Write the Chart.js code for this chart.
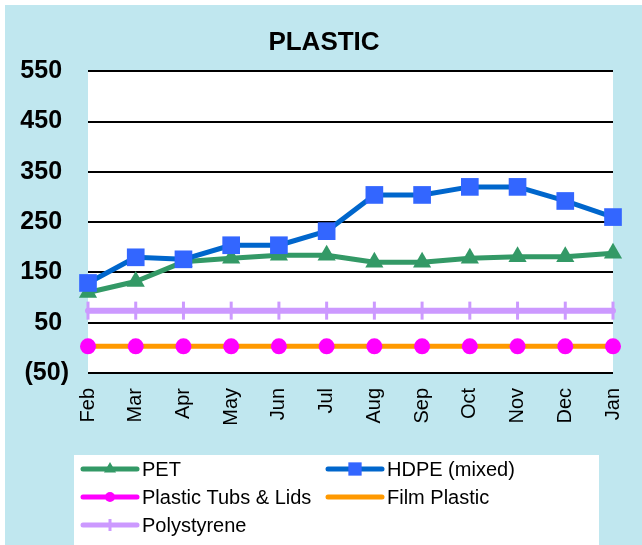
<!DOCTYPE html>
<html>
<head>
<meta charset="utf-8">
<title>PLASTIC</title>
<script src="https://cdn.jsdelivr.net/npm/chart.js@4/dist/chart.umd.min.js"></script>
<style>
    html, body { margin: 0; padding: 0; background: #ffffff; }
    #wrap { width: 642px; height: 545px; }
</style>
</head>
<body>
<div id="wrap"><canvas id="plasticChart" width="642" height="545"></canvas></div>
<script>
const months = ["Feb", "Mar", "Apr", "May", "Jun", "Jul", "Aug", "Sep", "Oct", "Nov", "Dec", "Jan"];

const pet = [110, 132, 171, 178, 184, 184, 170, 170, 178, 181, 181, 188];
const hdpe = [129, 180, 176, 204, 204, 232, 304, 304, 320, 320, 292, 260];
const tubsLids = [3, 3, 3, 3, 3, 3, 3, 3, 3, 3, 3, 3];
const filmPlastic = [3, 3, 3, 3, 3, 3, 3, 3, 3, 3, 3, 3];
const polystyrene = [74, 74, 74, 74, 74, 74, 74, 74, 74, 74, 74, 74];

const yTicks = [-50, 50, 150, 250, 350, 450, 550];

const FONT = "'Liberation Sans', Arial, sans-serif";
const PANEL = "#c0e7ef";

// background, white plot area
const backgroundPlugin = {
    id: "background",
    beforeDraw(chart) {
        const ctx = chart.ctx;
        const a = chart.chartArea;
        ctx.save();
        ctx.fillStyle = "#ffffff";
        ctx.fillRect(0, 0, chart.width, chart.height);
        ctx.fillStyle = PANEL;
        ctx.fillRect(5, 5, chart.width - 5, chart.height - 5);
        ctx.fillStyle = "#ffffff";
        ctx.fillRect(a.left, a.top, a.right - a.left, a.bottom - a.top);
        ctx.restore();
    }
};

// legend with line + marker samples, like the spreadsheet one
const legendPlugin = {
    id: "lineLegend",
    afterDraw(chart) {
        const ctx = chart.ctx;
        const a = chart.chartArea;
        const top = a.bottom + 82;
        ctx.save();
        ctx.fillStyle = "#ffffff";
        ctx.fillRect(74, top, 525, chart.height - top);

        chart.data.datasets.forEach((ds, i) => {
            const col = i % 2;
            const row = Math.floor(i / 2);
            const x = col === 0 ? 83 : 328;
            const y = top + 14 + row * 28;

            ctx.strokeStyle = ds.borderColor;
            ctx.lineWidth = 5;
            ctx.lineCap = "round";
            ctx.beginPath();
            ctx.moveTo(x, y);
            ctx.lineTo(x + 54, y);
            ctx.stroke();

            if (ds.legendMarker) {
                ctx.fillStyle = ds.pointBackgroundColor;
                ctx.strokeStyle = ds.pointBorderColor;
                ctx.lineWidth = ds.legendMarker.borderWidth;
                ctx.lineCap = "butt";
                Chart.helpers.drawPoint(ctx, {
                    pointStyle: ds.pointStyle,
                    radius: ds.legendMarker.radius,
                    rotation: ds.pointRotation || 0,
                    borderWidth: ds.legendMarker.borderWidth
                }, x + 27, y);
            }

            ctx.fillStyle = "#000000";
            ctx.font = "20px " + FONT;
            ctx.textBaseline = "middle";
            ctx.textAlign = "left";
            ctx.fillText(ds.label, x + 59, y + 1);
        });
        ctx.restore();
    }
};

new Chart(document.getElementById("plasticChart"), {
    type: "line",
    data: {
        labels: months,
        datasets: [
            {
                label: "PET",
                data: pet,
                borderColor: "#339966",
                borderWidth: 5,
                pointStyle: "triangle",
                pointRadius: 10.5,
                pointBackgroundColor: "#339966",
                pointBorderColor: "#339966",
                pointBorderWidth: 0,
                legendMarker: { radius: 7, borderWidth: 0 },
                order: 3
            },
            {
                label: "HDPE (mixed)",
                data: hdpe,
                borderColor: "#0066cc",
                borderWidth: 5,
                pointStyle: "rect",
                pointRadius: 12.5,
                pointBackgroundColor: "#3366ff",
                pointBorderColor: "#3366ff",
                pointBorderWidth: 0,
                legendMarker: { radius: 9.4, borderWidth: 0 },
                order: 2
            },
            {
                label: "Plastic Tubs & Lids",
                data: tubsLids,
                borderColor: "#ff00ff",
                borderWidth: 5,
                showLine: false,  // the pink line sits under the orange one
                pointStyle: "circle",
                pointRadius: 8,
                pointBackgroundColor: "#ff00ff",
                pointBorderColor: "#ff00ff",
                pointBorderWidth: 0,
                legendMarker: { radius: 5, borderWidth: 0 },
                order: 0
            },
            {
                label: "Film Plastic",
                data: filmPlastic,
                borderColor: "#ff9900",
                borderWidth: 5,
                pointRadius: 0,
                order: 1
            },
            {
                label: "Polystyrene",
                data: polystyrene,
                borderColor: "#cc99ff",
                borderWidth: 6,
                pointStyle: "line",
                pointRotation: 90,
                pointRadius: 9,
                pointBackgroundColor: "#cc99ff",
                pointBorderColor: "#cc99ff",
                pointBorderWidth: 3,
                legendMarker: { radius: 6, borderWidth: 3 },
                order: 4
            }
        ]
    },
    options: {
        responsive: false,
        animation: false,
        events: [],
        datasets: {
            line: { clip: false, tension: 0, borderCapStyle: "round", borderJoinStyle: "round" }
        },
        layout: { padding: { left: 6, right: 0, top: 0, bottom: 90 } },
        plugins: {
            legend: { display: false },
            tooltip: { enabled: false },
            title: {
                display: true,
                text: "PLASTIC",
                color: "#000000",
                font: { family: FONT, size: 26, weight: "bold" },
                padding: { top: 27, bottom: 13 }
            }
        },
        scales: {
            x: {
                offset: false,
                grid: { display: false, drawTicks: false },
                border: { display: false },
                ticks: {
                    autoSkip: false,
                    maxRotation: 90,
                    minRotation: 90,
                    padding: 15,
                    color: "#000000",
                    font: { family: FONT, size: 20 }
                },
                afterFit(scale) {
                    scale.height = 82;
                    scale.paddingLeft = 0;
                    scale.paddingRight = 29;
                }
            },
            y: {
                min: yTicks[0],
                max: yTicks[yTicks.length - 1],
                afterBuildTicks(scale) {
                    scale.ticks = yTicks.map(v => ({ value: v }));
                },
                grid: { color: "#000000", lineWidth: 2, drawTicks: false },
                border: { display: false },
                ticks: {
                    padding: 19,
                    color: "#000000",
                    font: { family: FONT, size: 25, weight: "bold" },
                    callback: v => v < 0 ? "(" + Math.abs(v) + ")" : v + " "
                },
                afterFit(scale) {
                    scale.width = 82;
                    scale.paddingTop = 0;
                    scale.paddingBottom = 0;
                }
            }
        }
    },
    plugins: [backgroundPlugin, legendPlugin]
});
</script>
</body>
</html>
